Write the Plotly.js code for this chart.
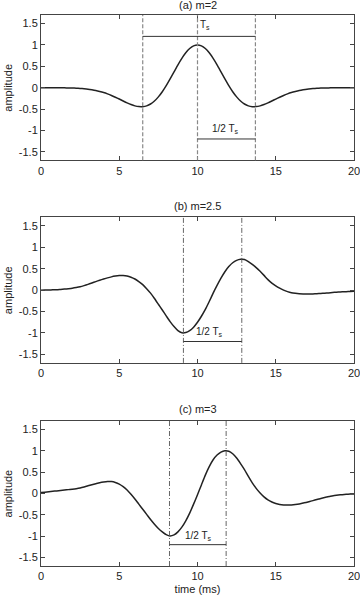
<!DOCTYPE html>
<html>
<head>
<meta charset="utf-8">
<script src="https://cdn.plot.ly/plotly-3.0.1.min.js"></script>
<style>html,body{margin:0;padding:0;background:#fff;}#chart{width:360px;height:596px;}</style>
</head>
<body>
<div id="chart"></div>
<script>
// time axis (ms)
const time = [0,0.25,0.5,0.75,1,1.25,1.5,1.75,2,2.25,2.5,2.75,3,3.25,3.5,3.75,4,4.25,4.5,4.75,
  5,5.25,5.5,5.75,6,6.25,6.5,6.75,7,7.25,7.5,7.75,8,8.25,8.5,8.75,9,9.25,9.5,9.75,
  10,10.25,10.5,10.75,11,11.25,11.5,11.75,12,12.25,12.5,12.75,13,13.25,13.5,13.75,14,14.25,14.5,14.75,
  15,15.25,15.5,15.75,16,16.25,16.5,16.75,17,17.25,17.5,17.75,18,18.25,18.5,18.75,19,19.25,19.5,19.75,20];
// (a) m=2
const ampA = [0,-0.0003,-0.0006,-0.001,-0.0015,-0.0027,-0.004,-0.006,-0.0085,-0.0125,-0.018,-0.026,-0.036,-0.05,-0.067,-0.089,-0.115,-0.146,-0.182,-0.223,
  -0.266,-0.311,-0.355,-0.394,-0.425,-0.443,-0.444,-0.425,-0.382,-0.312,-0.215,-0.094,0.048,0.206,0.37,0.534,0.685,0.815,0.915,0.979,
  1.0,0.979,0.915,0.815,0.685,0.534,0.37,0.206,0.048,-0.094,-0.215,-0.312,-0.382,-0.425,-0.444,-0.443,-0.425,-0.394,-0.355,-0.311,
  -0.266,-0.223,-0.182,-0.146,-0.115,-0.089,-0.067,-0.05,-0.036,-0.026,-0.018,-0.0125,-0.0085,-0.006,-0.004,-0.0027,-0.0015,-0.001,-0.0006,-0.0003,0];
// (b) m=2.5
const ampB = [0,0.002,0.005,0.007,0.01,0.017,0.025,0.034,0.045,0.061,0.08,0.106,0.135,0.167,0.2,0.231,0.26,0.287,0.31,0.328,
  0.34,0.341,0.33,0.302,0.26,0.2,0.13,0.035,-0.07,-0.195,-0.33,-0.465,-0.6,-0.735,-0.85,-0.945,-0.995,-0.99,-0.945,-0.865,
  -0.75,-0.61,-0.45,-0.265,-0.07,0.11,0.28,0.43,0.55,0.64,0.695,0.72,0.715,0.665,0.6,0.525,0.44,0.345,0.245,0.165,
  0.1,0.045,0.0,-0.035,-0.06,-0.075,-0.085,-0.09,-0.092,-0.09,-0.086,-0.081,-0.075,-0.068,-0.06,-0.052,-0.045,-0.04,-0.035,-0.03,-0.025];
// (c) m=3
const ampC = [0.02,0.03,0.04,0.05,0.06,0.07,0.08,0.09,0.1,0.113,0.13,0.153,0.18,0.205,0.23,0.253,0.27,0.28,0.278,0.258,
  0.22,0.16,0.08,-0.02,-0.13,-0.25,-0.37,-0.49,-0.61,-0.72,-0.82,-0.9,-0.965,-0.995,-0.97,-0.9,-0.79,-0.64,-0.46,-0.25,
  -0.03,0.2,0.43,0.63,0.79,0.9,0.97,1.0,0.99,0.93,0.83,0.7,0.56,0.4,0.25,0.12,0.01,-0.08,-0.15,-0.2,
  -0.235,-0.258,-0.27,-0.273,-0.27,-0.26,-0.245,-0.225,-0.205,-0.18,-0.155,-0.13,-0.105,-0.085,-0.065,-0.05,-0.038,-0.028,-0.02,-0.014,-0.01];

const panelTitles = ["(a) m=2","(b) m=2.5","(c) m=3"];
const xTicks = [0,5,10,15,20];
const yTicks = [-1.5,-1,-0.5,0,0.5,1,1.5];
const yTickText = ["-1.5","-1","-0.5","0","0.5","1","1.5"];
// vertical marker times (ms)
const marksA = [6.5,10,13.7];
const marksB = [9.1,12.83];
const marksC = [8.21,11.83];
// span brackets: [start, end, level]
const spanTsA = [6.5,13.7,1.2];
const spanHalfA = [10,13.7,-1.2];
const spanHalfB = [9.1,12.83,-1.2];
const spanHalfC = [8.21,11.83,-1.2];
// label anchors [x, y]
const labelTsA = [10.45,1.47];
const labelHalfA = [11.8,-0.96];
const labelHalfB = [10.75,-0.98];
const labelHalfC = [10.05,-1.0];

const FONT = "Liberation Sans, Arial, Helvetica, sans-serif";
const lineColor = "#222";
const curves = [ampA, ampB, ampC];
const traces = curves.map((y,i)=>({
  x: time, y: y, type:"scatter", mode:"lines", line:{color:lineColor,width:1.5, shape:"spline", smoothing:0.6},
  xaxis: i===0?"x":"x"+(i+1), yaxis: i===0?"y":"y"+(i+1), hoverinfo:"skip", showlegend:false
}));

const domains = [[0.7362,1],[0.3686,0.6327],[0,0.2633]];
function xa(i){
  return {domain:[0,1], range:[0,20], tickvals:xTicks, ticktext:xTicks.map(String), ticks:"inside", ticklen:4, tickcolor:"#444",
    showline:true, linecolor:"#444", linewidth:1, mirror:"ticks", showgrid:false, zeroline:false, ticklabeloverflow:"allow",
    tickfont:{family:FONT,size:11,color:"#222"}, anchor: i===0?"y":"y"+(i+1), fixedrange:true,
    title: i===2?{text:"time (ms)", font:{family:FONT,size:11,color:"#222"}, standoff:4}:{text:""}};
}
function ya(i){
  return {domain:domains[i], range:[-1.7,1.7], tickvals:yTicks, ticktext:yTickText, ticks:"inside", ticklen:4, tickcolor:"#444",
    showline:true, linecolor:"#444", linewidth:1, mirror:"ticks", showgrid:false, zeroline:false,
    tickfont:{family:FONT,size:11,color:"#222"}, anchor: i===0?"x":"x"+(i+1), fixedrange:true};
}

const shapes = [];
const annotations = [];
function ref(i){ return i===0?"":String(i+1); }
function vmarks(i, arr, dash, color, width){
  arr.forEach(t=>shapes.push({type:"line", xref:"x"+ref(i), yref:"y"+ref(i)+" domain", x0:t, x1:t, y0:0, y1:1,
    line:{color:color, width:width, dash:dash}}));
}
function span(i, s){
  shapes.push({type:"line", xref:"x"+ref(i), yref:"y"+ref(i), x0:s[0], x1:s[1], y0:s[2], y1:s[2], line:{color:"#333", width:1}});
}
function label(i, txt, p){
  annotations.push({xref:"x"+ref(i), yref:"y"+ref(i), x:p[0], y:p[1], text:txt, showarrow:false,
    font:{family:FONT,size:10,color:"#222"}, xanchor:"center", yanchor:"middle"});
}
vmarks(0, marksA, "4px,2px", "#888", 1.2);
vmarks(1, marksB, "5px,2px,1px,2px", "#555", 0.9);
vmarks(2, marksC, "5px,2px,1px,2px", "#555", 0.9);
span(0, spanTsA); span(0, spanHalfA); span(1, spanHalfB); span(2, spanHalfC);
label(0, "T<sub>s</sub>", labelTsA);
label(0, "1/2 T<sub>s</sub>", labelHalfA);
label(1, "1/2 T<sub>s</sub>", labelHalfB);
label(2, "1/2 T<sub>s</sub>", labelHalfC);

const titleShift = [10, 11.6, 12.4];
panelTitles.forEach((t,i)=>{
  annotations.push({xref:"x"+ref(i)+" domain", yref:"y"+ref(i)+" domain", x:0.5, y:1, yshift:titleShift[i], text:t, showarrow:false,
    font:{family:FONT,size:11,color:"#222"}, xanchor:"center", yanchor:"middle"});
  annotations.push({xref:"paper", yref:"y"+ref(i)+" domain", x:0, y:0.5, xshift:-33, text:"amplitude", textangle:-90, showarrow:false,
    font:{family:FONT,size:11,color:"#222"}, xanchor:"center", yanchor:"middle"});
});

const layout = {
  width:360, height:596, margin:{l:41, r:6, t:15, b:30}, paper_bgcolor:"#fff", plot_bgcolor:"#fff",
  xaxis:xa(0), xaxis2:xa(1), xaxis3:xa(2), yaxis:ya(0), yaxis2:ya(1), yaxis3:ya(2),
  shapes:shapes, annotations:annotations, showlegend:false
};
Plotly.newPlot("chart", traces, layout, {staticPlot:true, displayModeBar:false});
</script>
</body>
</html>
